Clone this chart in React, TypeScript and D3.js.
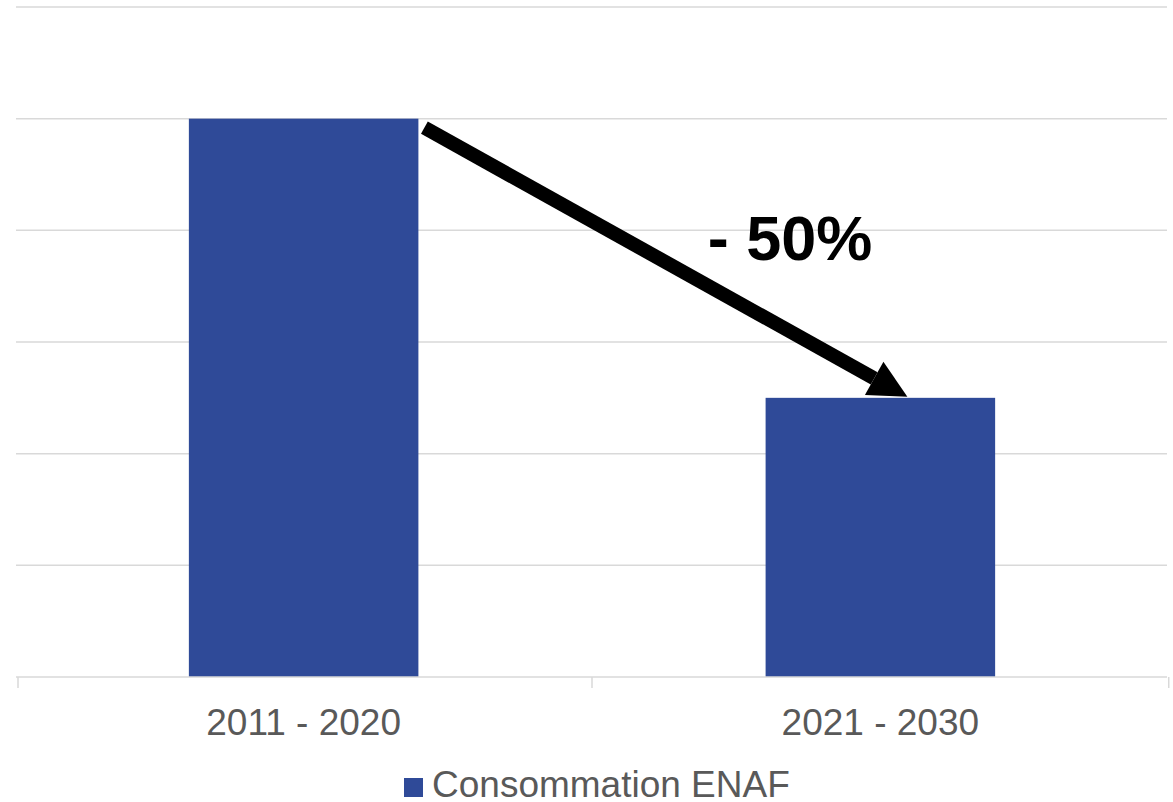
import React from "react";
import * as d3 from "d3";

const categories = ["2011 - 2020", "2021 - 2030"];
const values = [5, 2.5];
const seriesName = "Consommation ENAF";
const yTicks = [0, 1, 2, 3, 4, 5, 6];
const annotation = "- 50%";

const W = 1173;
const H = 802;
const FONT = "'Liberation Sans', Arial, sans-serif";
const BAR = "#2f4a98";
const GRID = "#d9d9d9";
const TEXT = "#595959";

export default function App() {
  const x = d3.scaleBand<string>().domain(categories).range([17, 1167]).paddingInner(0.602).paddingOuter(0.298);
  const y = d3.scaleLinear().domain([0, 6]).range([677, 7]);
  const bw = x.bandwidth();
  const step = x.step();

  const x0 = (x(categories[0]) as number) + bw + 6;
  const y0 = y(values[0]) + 9;
  const tipX = (x(categories[1]) as number) + bw / 2 + 27;
  const tipY = y(values[1]) - 1;
  const ang = Math.atan2(tipY - y0, tipX - x0);
  const headLen = 38;
  const headHalf = 19;
  const bx = tipX - headLen * Math.cos(ang);
  const by = tipY - headLen * Math.sin(ang);
  const nx = -Math.sin(ang);
  const ny = Math.cos(ang);
  const head = [
    [tipX, tipY],
    [bx + nx * headHalf, by + ny * headHalf],
    [bx - nx * headHalf, by - ny * headHalf],
  ];

  const axisTicks = [18, ...categories.map((c) => (x(c) as number) - (step - bw) / 2 + step)];

  return (
    <svg width={W} height={H} style={{ position: "absolute", left: 0, top: 0 }} fontFamily={FONT}>
      <rect width={W} height={H} fill="#fff" />
      {yTicks.slice(1).map((t) => (
        <line key={t} x1={16} x2={1167} y1={y(t)} y2={y(t)} stroke={GRID} strokeWidth={1.5} />
      ))}
      {categories.map((c, i) => (
        <rect key={c} x={x(c)} y={y(values[i])} width={bw} height={y(0) - y(values[i])} fill={BAR} />
      ))}
      <line x1={16} x2={1167} y1={y(0)} y2={y(0)} stroke={GRID} strokeWidth={1.5} />
      {axisTicks.map((tx, i) => (
        <line key={i} x1={tx} x2={tx} y1={y(0)} y2={y(0) + 11} stroke={GRID} strokeWidth={1.5} />
      ))}
      {categories.map((c) => (
        <text key={c} x={(x(c) as number) + bw / 2} y={735} textAnchor="middle" fontSize={37} fill={TEXT}>
          {c}
        </text>
      ))}
      <line x1={x0} y1={y0} x2={bx} y2={by} stroke="#000" strokeWidth={14} />
      <polygon points={head.map((p) => p.join(",")).join(" ")} fill="#000" />
      <text x={790} y={260} textAnchor="middle" fontSize={63} fontWeight="bold" fill="#000">
        {annotation}
      </text>
      <rect x={404} y={778} width={19} height={19} fill={BAR} />
      <text x={432} y={797} fontSize={37} fill={TEXT}>
        {seriesName}
      </text>
    </svg>
  );
}
